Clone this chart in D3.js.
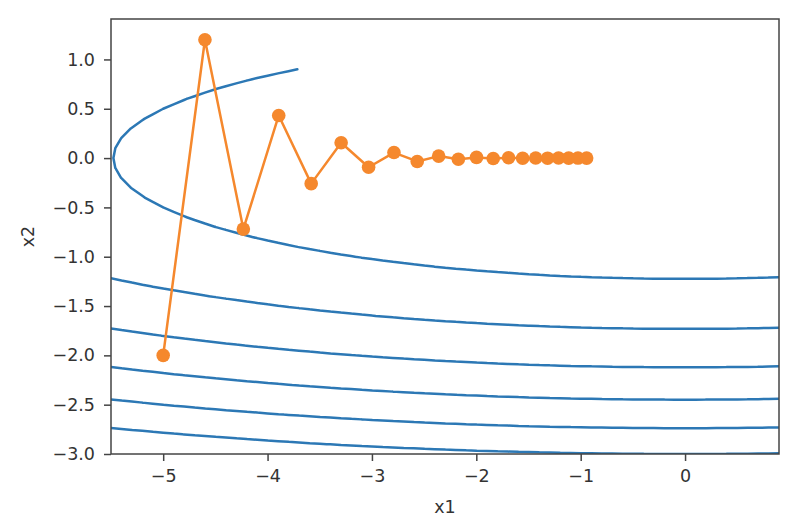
<!DOCTYPE html>
<html>
<head>
<meta charset="utf-8">
<script src="https://cdn.jsdelivr.net/npm/d3@7"></script>
<style>
  html, body { margin: 0; padding: 0; background: #fff; }
  svg { display: block; }
  text { font-family: "DejaVu Sans", sans-serif; }
</style>
</head>
<body>
<svg id="chart" width="798" height="526"></svg>
<script>
// ---- data ----
// gradient-descent trajectory (x1, x2)
const trajX1 = [-5, -4.6, -4.232, -3.893, -3.582, -3.295, -3.032, -2.789, -2.566, -2.361,
                -2.172, -1.998, -1.838, -1.691, -1.556, -1.431, -1.317, -1.212, -1.115, -1.026, -0.943];
const trajX2 = [-2, 1.2, -0.72, 0.432, -0.259, 0.156, -0.093, 0.056, -0.034, 0.020,
                -0.012, 0.007, -0.004, 0.003, -0.002, 0.001, -0.001, 0.0003, -0.0002, 0.0001, -0.0001];
// objective f(x1,x2) = 0.1*x1^2 + 2*x2^2, sampled on a grid for the contour
const fCoef = [0.1, 2];
const gridX1 = d3.range(0, 65).map(i => -5.5 + i * 0.1);
const gridX2 = d3.range(0, 40).map(j => -3.0 + j * 0.1);
const contourLevels = [3, 6, 9, 12, 15, 18];
const xTicks = [-5, -4, -3, -2, -1, 0];
const yTicks = [-3.0, -2.5, -2.0, -1.5, -1.0, -0.5, 0.0, 0.5, 1.0];
const xLabel = "x1", yLabel = "x2";

// ---- layout ----
const W = 798, H = 526;
const m = { left: 111, top: 19, right: 19, bottom: 72 };
const pw = W - m.left - m.right, ph = H - m.top - m.bottom;
const blue = "#2c78b5", orange = "#f5882d";

const svg = d3.select("#chart");
const x = d3.scaleLinear().domain([-5.5, 0.9]).range([0, pw]);
const y = d3.scaleLinear().domain([-3.0, 1.41]).range([ph, 0]);

const g = svg.append("g").attr("transform", `translate(${m.left},${m.top})`);
g.append("clipPath").attr("id", "clip")
  .append("rect").attr("width", pw).attr("height", ph);

// grid values
const nx = gridX1.length, ny = gridX2.length;
const vals = [];
for (let j = 0; j < ny; j++) {
  vals.push(gridX1.map(a => fCoef[0] * a * a + fCoef[1] * gridX2[j] * gridX2[j]));
}

// marching squares -> line segments
function segmentsFor(level) {
  const segs = [];
  for (let j = 0; j < ny - 1; j++) {
    for (let i = 0; i < nx - 1; i++) {
      const c = [[i, j], [i + 1, j], [i + 1, j + 1], [i, j + 1]];
      const pts = [];
      for (let k = 0; k < 4; k++) {
        const a = c[k], b = c[(k + 1) % 4];
        const va = vals[a[1]][a[0]], vb = vals[b[1]][b[0]];
        if ((va >= level) !== (vb >= level)) {
          const t = (level - va) / (vb - va);
          const px = gridX1[a[0]] + t * (gridX1[b[0]] - gridX1[a[0]]);
          const py = gridX2[a[1]] + t * (gridX2[b[1]] - gridX2[a[1]]);
          pts.push([px, py]);
        }
      }
      if (pts.length === 2) segs.push([pts[0], pts[1]]);
      else if (pts.length === 4) { segs.push([pts[0], pts[1]]); segs.push([pts[2], pts[3]]); }
    }
  }
  return segs;
}

const plot = g.append("g").attr("clip-path", "url(#clip)");
contourLevels.forEach(lv => {
  const segs = segmentsFor(lv);
  const d = segs.map(s => `M${x(s[0][0])},${y(s[0][1])}L${x(s[1][0])},${y(s[1][1])}`).join("");
  plot.append("path").attr("d", d)
    .attr("fill", "none").attr("stroke", blue).attr("stroke-width", 2.5)
    .attr("stroke-linecap", "round");
});

// trajectory
const pts = trajX1.map((v, i) => [v, trajX2[i]]);
plot.append("path").datum(pts)
  .attr("d", d3.line().x(d => x(d[0])).y(d => y(d[1])))
  .attr("fill", "none").attr("stroke", orange).attr("stroke-width", 2.5)
  .attr("stroke-linejoin", "round");
plot.selectAll("circle.pt").data(pts).join("circle")
  .attr("class", "pt")
  .attr("cx", d => x(d[0])).attr("cy", d => y(d[1])).attr("r", 6.8)
  .attr("fill", orange);

// axes
const xAxis = g.append("g").attr("transform", `translate(0,${ph})`)
  .call(d3.axisBottom(x).tickValues(xTicks).tickFormat(d3.format("d")).tickSize(7).tickPadding(9));
const yAxis = g.append("g")
  .call(d3.axisLeft(y).tickValues(yTicks).tickFormat(d3.format(".1f")).tickSize(7).tickPadding(9));
[xAxis, yAxis].forEach(a => {
  a.select(".domain").remove();
  a.selectAll(".tick line").attr("stroke", "#444").attr("stroke-width", 1.5);
  a.selectAll(".tick text").attr("fill", "#333").style("font-size", "17.5px")
    .style("font-family", "'DejaVu Sans', sans-serif");
});

// frame
g.append("rect").attr("width", pw).attr("height", ph)
  .attr("fill", "none").attr("stroke", "#444").attr("stroke-width", 1.5);

// axis labels
svg.append("text").attr("x", m.left + pw / 2).attr("y", 513)
  .attr("text-anchor", "middle").attr("fill", "#333").style("font-size", "17.5px").text(xLabel);
svg.append("text").attr("transform", `translate(34,${m.top + ph / 2}) rotate(-90)`)
  .attr("text-anchor", "middle").attr("fill", "#333").style("font-size", "17.5px").text(yLabel);
</script>
</body>
</html>
